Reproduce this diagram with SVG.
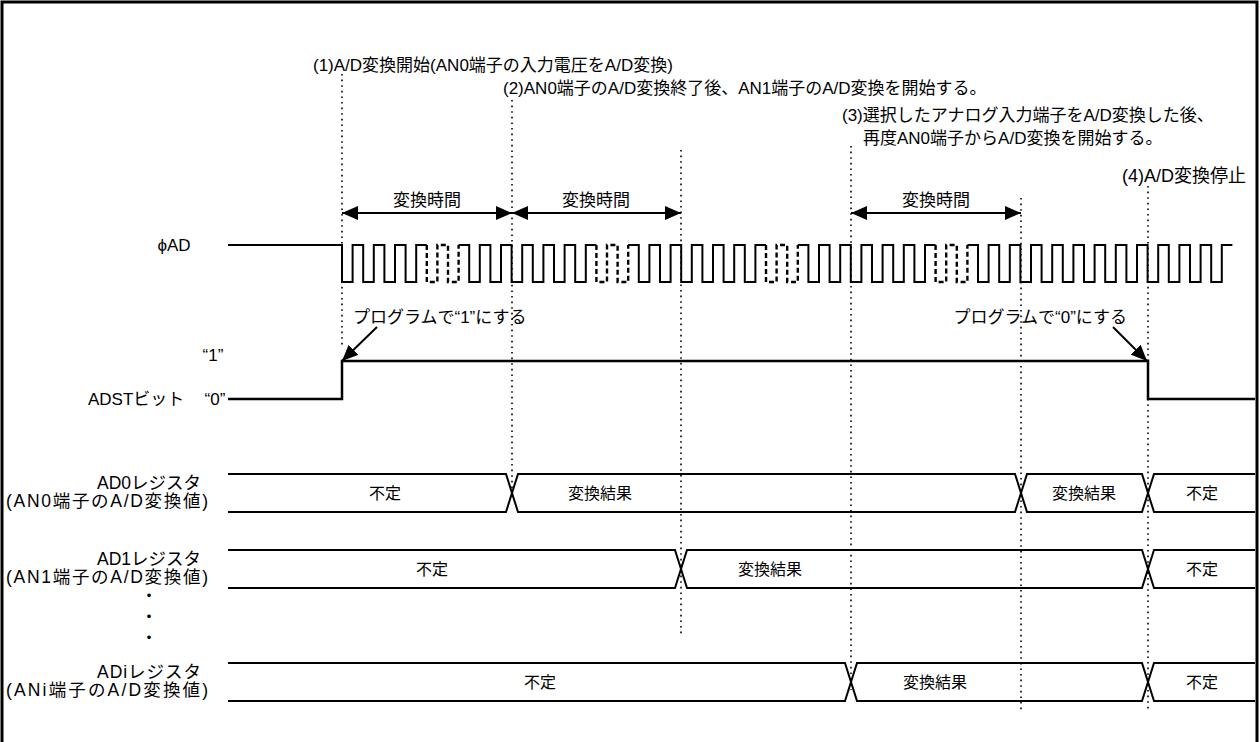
<svg xmlns="http://www.w3.org/2000/svg" width="1260" height="742" viewBox="0 0 1260 742">
<style>
text{font-family:"Liberation Sans","Noto Sans CJK JP",sans-serif;font-size:17px;fill:#000}
.mid{text-anchor:middle}
.end{text-anchor:end}
.lbl{text-anchor:end;font-size:17.5px}
.val{text-anchor:middle;font-size:16px}
.sig{fill:none;stroke:#000;stroke-width:2}
.dash{fill:none;stroke:#000;stroke-width:2.4;stroke-dasharray:5 3}
.dot{fill:none;stroke:#000;stroke-width:1.6;stroke-dasharray:1.6 4}
.arr{fill:none;stroke:#000;stroke-width:2}
</style>
<defs>
<marker id="ah" viewBox="0 0 16 14" refX="16" refY="7" markerWidth="16" markerHeight="14" markerUnits="userSpaceOnUse" orient="auto-start-reverse">
<path d="M0,0 L16,7 L0,14 z" fill="#000"/>
</marker>
</defs>
<rect width="1260" height="742" fill="#fff"/>
<path d="M2,742 V2 H1257 V742" fill="none" stroke="#000" stroke-width="3"/>

<g id="guides">
<line class="dot" x1="342" y1="74" x2="342" y2="345"/>
<line class="dot" x1="512" y1="100" x2="512" y2="492"/>
<line class="dot" x1="681" y1="150" x2="681" y2="637"/>
<line class="dot" x1="851" y1="146" x2="851" y2="690"/>
<line class="dot" x1="1021" y1="198" x2="1021" y2="712"/>
<line class="dot" x1="1148" y1="186" x2="1148" y2="712"/>
</g>

<g id="notes">
<text x="313" y="71">(1)A/D変換開始(AN0端子の入力電圧をA/D変換)</text>
<text x="503" y="94">(2)AN0端子のA/D変換終了後、AN1端子のA/D変換を開始する。</text>
<text x="842" y="121">(3)選択したアナログ入力端子をA/D変換した後、</text>
<text x="863" y="144">再度AN0端子からA/D変換を開始する。</text>
<text x="1122" y="182" style="font-size:18px">(4)A/D変換停止</text>
</g>

<g id="conv-time">
<text class="mid" x="427" y="206">変換時間</text>
<text class="mid" x="596" y="206">変換時間</text>
<text class="mid" x="936" y="206">変換時間</text>
</g>

<g id="phiAD">
<text class="mid" x="174" y="251">ϕAD</text>
<path class="sig" d="M228,245 H342 v37 h10.6 v-37 h10.6 v37 h10.6 v-37 h10.6 v37 h10.6 v-37 h10.6 v37 h10.6 v-37 h10.6"/>
<path class="dash" d="M426.8,245 v37 h10.6 v-37 h10.6 v37 h10.6 v-37"/>
<path class="sig" d="M458.6,245 h10.6 v37 h10.6 v-37 h10.6 v37 h10.6 v-37 h10.6 v37 h10.6 v-37 h10.6 v37 h10.6 v-37 h10.6 v37 h10.6 v-37 h10.6 v37 h10.6 v-37 h10.6"/>
<path class="dash" d="M596.4,245 v37 h10.6 v-37 h10.6 v37 h10.6 v-37"/>
<path class="sig" d="M628.2,245 h10.6 v37 h10.6 v-37 h10.6 v37 h10.6 v-37 h10.6 v37 h10.6 v-37 h10.6 v37 h10.6 v-37 h10.6 v37 h10.6 v-37 h10.6 v37 h10.6 v-37 h10.6"/>
<path class="dash" d="M766,245 v37 h10.6 v-37 h10.6 v37 h10.6 v-37"/>
<path class="sig" d="M797.8,245 h10.6 v37 h10.6 v-37 h10.6 v37 h10.6 v-37 h10.6 v37 h10.6 v-37 h10.6 v37 h10.6 v-37 h10.6 v37 h10.6 v-37 h10.6 v37 h10.6 v-37 h10.6"/>
<path class="dash" d="M935.6,245 v37 h10.6 v-37 h10.6 v37 h10.6 v-37"/>
<path class="sig" d="M967.4,245 h10.6 v37 h10.6 v-37 h10.6 v37 h10.6 v-37 h10.6 v37 h10.6 v-37 h10.6 v37 h10.6 v-37 h10.6 v37 h10.6 v-37 h10.6 v37 h10.6 v-37 h10.6 v37 h10.6 v-37 h10.6 v37 h10.6 v-37 h10.6 v37 h10.6 v-37 h10.6 v37 h10.6 v-37 h10.6 v37 h10.6 v-37 h10.6 v37 h10.6 v-37 h10.6"/>
</g>

<g id="adst">
<text class="mid" x="213" y="361">“1”</text>
<text x="88" y="405">ADSTビット</text>
<text class="mid" x="215" y="405">“0”</text>
<path d="M228,399 H342 V361 H1148 V399 H1255" fill="none" stroke="#000" stroke-width="2.5"/>
<text x="353" y="323">プログラムで“1”にする</text>
<text class="end" x="1127" y="323">プログラムで“0”にする</text>
</g>

<g id="ad0">
<text class="lbl" x="201" y="489" textLength="104" lengthAdjust="spacing">AD0レジスタ</text>
<text class="lbl" x="208" y="507" textLength="202" lengthAdjust="spacing">(AN0端子のA/D変換値)</text>
<path class="sig" d="M228,474 H506 L518,512 H1015 L1027,474 H1142 L1154,512 H1255"/>
<path class="sig" d="M228,512 H506 L518,474 H1015 L1027,512 H1142 L1154,474 H1255"/>
<text class="val" x="385" y="499">不定</text>
<text class="val" x="600" y="499">変換結果</text>
<text class="val" x="1084" y="499">変換結果</text>
<text class="val" x="1202" y="499">不定</text>
</g>

<g id="ad1">
<text class="lbl" x="201" y="565" textLength="104" lengthAdjust="spacing">AD1レジスタ</text>
<text class="lbl" x="208" y="583" textLength="202" lengthAdjust="spacing">(AN1端子のA/D変換値)</text>
<path class="sig" d="M228,550 H675 L687,588 H1142 L1154,550 H1255"/>
<path class="sig" d="M228,588 H675 L687,550 H1142 L1154,588 H1255"/>
<text class="val" x="432" y="575">不定</text>
<text class="val" x="770" y="575">変換結果</text>
<text class="val" x="1202" y="575">不定</text>
</g>

<g id="dots">
<text class="mid" x="149" y="602">・</text>
<text class="mid" x="149" y="623">・</text>
<text class="mid" x="149" y="644">・</text>
</g>

<g id="adi">
<text class="lbl" x="201" y="678" textLength="104" lengthAdjust="spacing">ADiレジスタ</text>
<text class="lbl" x="208" y="696" textLength="202" lengthAdjust="spacing">(ANi端子のA/D変換値)</text>
<path class="sig" d="M228,663 H845 L857,701 H1142 L1154,663 H1255"/>
<path class="sig" d="M228,701 H845 L857,663 H1142 L1154,701 H1255"/>
<text class="val" x="540" y="688">不定</text>
<text class="val" x="935" y="688">変換結果</text>
<text class="val" x="1202" y="688">不定</text>
</g>

<g id="connectors">
<line class="arr" x1="342" y1="213" x2="512" y2="213" marker-start="url(#ah)" marker-end="url(#ah)"/>
<line class="arr" x1="512" y1="213" x2="681" y2="213" marker-start="url(#ah)" marker-end="url(#ah)"/>
<line class="arr" x1="851" y1="213" x2="1021" y2="213" marker-start="url(#ah)" marker-end="url(#ah)"/>
<line class="arr" x1="377" y1="327" x2="342" y2="361" marker-end="url(#ah)"/>
<line class="arr" x1="1113" y1="327" x2="1147" y2="361" marker-end="url(#ah)"/>
</g>
</svg>
